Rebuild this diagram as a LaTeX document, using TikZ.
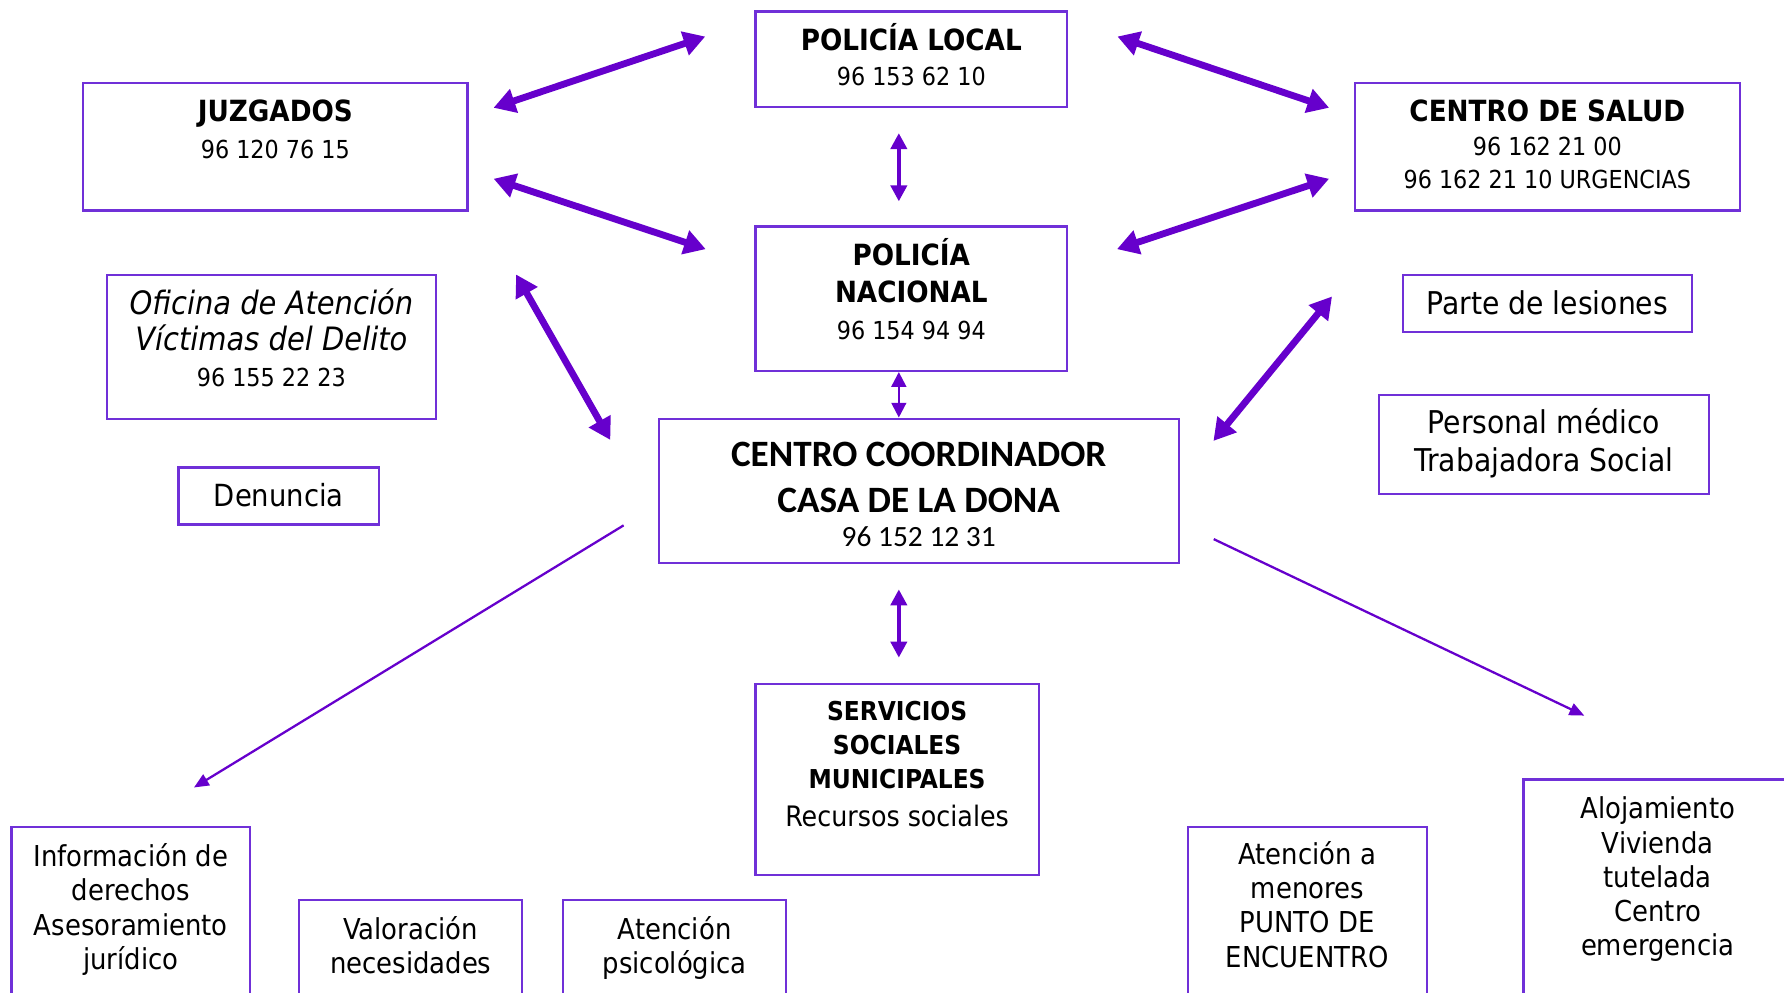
\documentclass[tikz,border=0pt]{standalone}
\usepackage{fontspec}
\usepackage{tikz}
\usetikzlibrary{arrows.meta}
\newfontfamily\tahfont{DejaVu Sans Condensed}
\newfontfamily\calfont{Carlito}
\definecolor{arrowcol}{HTML}{6600CC}
\definecolor{boxcol}{HTML}{7030D8}
\newcommand{\tel}{\fontsize{12.4}{15}\selectfont}
\newcommand{\capsb}{\bfseries\fontsize{13}{15}\selectfont}
\tikzset{
  % framed box, text hangs from the top edge
  box/.style={draw=boxcol, line width=0.4mm, fill=white, align=center,
              anchor=north, inner xsep=0pt, inner ysep=0pt,
              text height=6.8mm, font=\tahfont\fontsize{14.4}{17.1}\selectfont},
  % thick double arrow
  bigarrow/.style={arrowcol, line width=1.2mm,
                   {Triangle[length=3.8mm,width=4.2mm]}-{Triangle[length=3.8mm,width=4.2mm]}},
  midarrow/.style={arrowcol, line width=0.8mm,
                   {Triangle[length=2.8mm,width=2.8mm]}-{Triangle[length=2.8mm,width=2.8mm]}},
  thinarrow/.style={arrowcol, line width=0.4mm,
                    {Triangle[length=2.6mm,width=2.6mm]}-{Triangle[length=2.6mm,width=2.6mm]}},
  onearrow/.style={arrowcol, line width=0.4mm, -{Triangle[length=2.6mm,width=2.2mm]}},
}

\begin{document}
\begin{tikzpicture}[x=0.2mm, y=-0.2mm]
  \useasboundingbox (0,0) rectangle (1568,872);
  \clip (0,0) rectangle (1568,872);

  % top row
  \node[box, minimum width=54.8mm, text height=13mm, text depth=3.8mm,
        font=\tahfont\fontsize{14.6}{17.6}\selectfont] (local) at (801,9)
    {\textbf{POLICÍA LOCAL}\\\tel 96 153 62 10};
  \node[box, minimum width=67.6mm, text height=13.2mm, text depth=9.2mm,
        font=\tahfont\fontsize{14.6}{18.2}\selectfont] (juz) at (242,72)
    {\textbf{JUZGADOS}\\\tel 96 120 76 15};
  \node[box, minimum width=67.6mm, text height=18.6mm, text depth=3.8mm,
        font=\tahfont\fontsize{14.6}{16.8}\selectfont] (salud) at (1360,72)
    {\textbf{CENTRO DE SALUD}\\\tel 96 162 21 00\\\tel 96 162 21 10 URGENCIAS};
  \node[box, minimum width=54.8mm, text height=19.8mm, text depth=5.6mm,
        font=\tahfont\fontsize{14.6}{18.5}\selectfont] (nacional) at (801,198)
    {\textbf{POLICÍA}\\\textbf{NACIONAL}\\\tel 96 154 94 94};

  % left column
  \node[box, minimum width=57.8mm, text height=19.6mm, text depth=5.6mm,
        font=\tahfont\fontsize{16.1}{18.2}\selectfont] (oficina) at (238.5,241)
    {\itshape Oficina de Atención\\\itshape Víctimas del Delito\\\tel 96 155 22 23};
  \node[box, minimum width=35.2mm, text depth=3.2mm,
        font=\tahfont\fontsize{15.25}{18}\selectfont] (denuncia) at (245,410)
    {Denuncia};

  % right column
  \node[box, minimum width=50.8mm, text depth=3.2mm,
        font=\tahfont\fontsize{15.7}{18.8}\selectfont] (parte) at (1360,241)
    {Parte de lesiones};
  \node[box, minimum width=58mm, text height=13.4mm, text depth=4mm,
        font=\tahfont\fontsize{15.7}{18.8}\selectfont] (personal) at (1357,346)
    {Personal médico\\Trabajadora Social};

  % centre
  \node[box, minimum width=91.4mm, text height=22.4mm, text depth=3mm,
        font=\calfont\fontsize{18.6}{22.8}\selectfont] (centro) at (807.5,367)
    {\bfseries CENTRO COORDINADOR\\\bfseries CASA DE LA DONA\\[-6pt]
     \fontsize{14.7}{17}\selectfont 96 152 12 31};
  \node[box, minimum width=49.8mm, text height=25mm, text depth=8.6mm,
        font=\tahfont\fontsize{14.1}{17.1}\selectfont] (servicios) at (788.5,600)
    {\capsb SERVICIOS\\\capsb SOCIALES\\\capsb MUNICIPALES\\[1.7pt] Recursos sociales};

  % bottom row
  \node[box, minimum width=42mm, text height=25mm, text depth=13.8mm] (info) at (115,726)
    {Información de\\derechos\\Asesoramiento\\jurídico};
  \node[box, minimum width=39.2mm, text height=13mm, text depth=13mm] (valora) at (361,790)
    {Valoración\\necesidades};
  \node[box, minimum width=39.2mm, text height=13mm, text depth=13mm] (psico) at (593,790)
    {Atención\\psicológica};
  \node[box, minimum width=42mm, text height=24.6mm, text depth=14.2mm] (menores) at (1149,726)
    {Atención a\\menores\\PUNTO DE\\ENCUENTRO};
  \node[box, minimum width=47.2mm, text height=31mm, text depth=16.2mm] (aloja) at (1457,684)
    {Alojamiento\\Vivienda\\tutelada\\Centro\\emergencia};

  % connectors
  \draw[bigarrow, shorten <=4.6mm, shorten >=9.1mm] (juz.9) -- (local.166);
  \draw[bigarrow, shorten <=4.6mm, shorten >=9mm] (juz.353) -- (nacional.168);
  \draw[bigarrow, shorten <=9.1mm, shorten >=4.6mm] (local.14) -- (salud.171);
  \draw[bigarrow, shorten <=4.6mm, shorten >=9mm] (salud.187) -- (nacional.12);
  \draw[bigarrow, shorten <=16.8mm, shorten >=16.8mm] (juz.347) -- (centro.187);
  \draw[bigarrow, shorten <=19.3mm, shorten >=9.3mm] (salud.204) -- (centro.2);

  \draw[midarrow, shorten <=4.4mm, shorten >=4.2mm]
    ([xshift=-2.2mm]local.south) -- ([xshift=-2.2mm]nacional.north);
  \draw[thinarrow] ([xshift=-2.2mm]nacional.south) -- ([xshift=-2.2mm]nacional.south |- centro.north);
  \draw[midarrow, shorten <=4.4mm, shorten >=4.4mm]
    ([xshift=0.3mm]servicios.north |- centro.south) -- ([xshift=0.3mm]servicios.north);

  \draw[onearrow, shorten <=7mm, shorten >=13mm] (centro.183) -- (info.north);
  \draw[onearrow, shorten <=6.6mm, shorten >=25.6mm] (centro.353) -- ([xshift=10.2mm]aloja.north);
\end{tikzpicture}
\end{document}
